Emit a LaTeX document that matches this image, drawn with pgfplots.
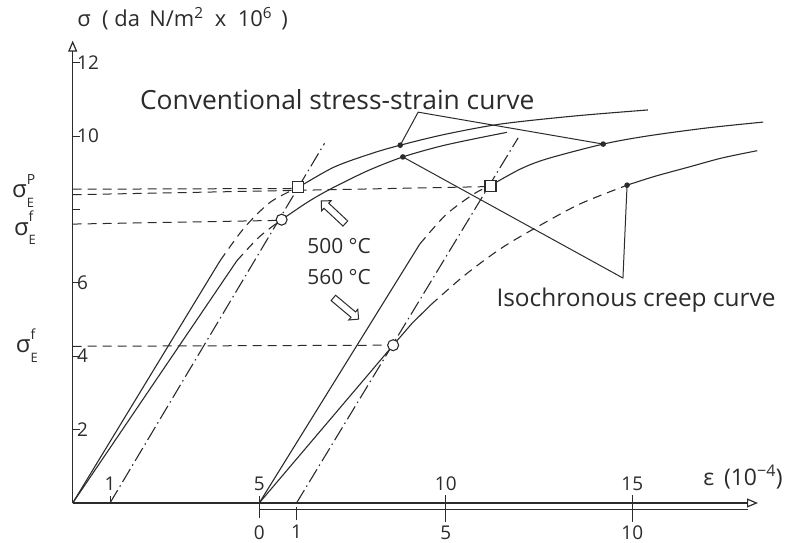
\documentclass[border=0pt]{standalone}
\usepackage{fontspec}
\setmainfont{Open Sans}
\usepackage{pgfplots}
\pgfplotsset{compat=1.18}
\usetikzlibrary{arrows.meta,shapes.arrows}

\definecolor{ink}{HTML}{2B2B2B}
\newcommand\numfont{\fontsize{19}{22}\selectfont}
% stress symbol with a raised and a lowered index
\newcommand\sig[2]{σ\rlap{\raisebox{1.05ex}{\fontsize{14}{14}\selectfont #1}}\raisebox{-0.75ex}{\fontsize{13}{13}\selectfont #2}}

\begin{document}
\begin{tikzpicture}
\begin{axis}[
  scale only axis,
  width=685.3bp, height=462.4bp,
  xmin=0, xmax=18.37, ymin=0, ymax=12.6,
  axis lines=left,
  axis line style={ink, line width=1.2bp, -{Triangle[open,length=11bp,width=9bp]}},
  clip=false,
  xtick={1,5,10,15},
  ytick={2,4,6,8,10,12},
  yticklabels={2,4,6,,10,12},
  tick align=inside,
  major tick length=7bp,
  tick style={ink, line width=1bp},
  /pgf/number format/assume math mode=true,
  yticklabel style={anchor=west, xshift=1bp, font=\numfont, text=ink},
  xticklabel style={anchor=south, yshift=9bp, font=\numfont, text=ink},
  every axis plot/.append style={ink, line width=1.1bp},
  dsh/.style={dash pattern=on 9bp off 6bp},
  dshdot/.style={dash pattern=on 15bp off 4bp on 1.5bp off 4bp},
]
\coordinate (O) at (axis cs:0,0);

% ---------- 500 C ----------
% conventional curve: elastic part, transition, plastic part
\addplot[solid] coordinates {(0,0) (3.95,6.6)};
\addplot[dsh, smooth] coordinates {(3.95,6.6) (4.6,7.5) (5.3,8.2) (6.05,8.6)};
\addplot[smooth] coordinates {(6.05,8.6) (7.0,9.15) (8.0,9.52) (8.78,9.75) (10.0,10.05) (11.5,10.33) (13.5,10.55) (15.42,10.71)};
% isochronous creep curve
\addplot[solid] coordinates {(0,0) (4.4,6.6)};
\addplot[dsh, smooth] coordinates {(4.4,6.6) (5.0,7.25) (5.6,7.72)};
\addplot[smooth] coordinates {(5.6,7.72) (6.3,8.2) (6.9,8.55) (7.9,9.05) (8.85,9.43) (9.85,9.72) (10.8,9.93) (11.64,10.1)};
% offset line
\addplot[dshdot] coordinates {(1,0) (6.75,9.8)};

% ---------- 560 C ----------
\addplot[solid] coordinates {(5,0) (9.3,7.05)};
\addplot[dsh, smooth] coordinates {(9.3,7.05) (10.0,7.85) (10.75,8.42) (11.2,8.65)};
\addplot[smooth] coordinates {(11.2,8.65) (12.0,9.1) (12.72,9.38) (14.22,9.78) (15.4,10.0) (17.0,10.22) (18.51,10.38)};
\addplot[solid] coordinates {(5,0) (8.59,4.3) (9.1,4.9) (9.6,5.4)};
\addplot[dsh, smooth] coordinates {(9.6,5.4) (10.5,6.2) (11.5,6.95) (12.5,7.55) (13.6,8.15) (14.86,8.66)};
\addplot[smooth] coordinates {(14.86,8.66) (15.6,8.9) (16.5,9.15) (17.4,9.4) (18.35,9.6)};
\addplot[dshdot] coordinates {(6,0) (11.94,9.95)};

% ---------- limit stress levels ----------
\addplot[dsh, line width=1bp] coordinates {(0,8.55) (5.9,8.57)};
\addplot[dsh, line width=1bp] coordinates {(0,8.40) (11.05,8.62)};
\addplot[dsh, line width=1bp] coordinates {(0,7.6) (5.45,7.7)};
\addplot[dsh, line width=1bp] coordinates {(0,4.27) (8.43,4.3)};

% ---------- pointers to the labels ----------
\addplot[line width=1bp] coordinates {(8.78,9.75) (9.26,10.65) (14.22,9.78)};
\addplot[line width=1bp] coordinates {(8.85,9.43) (14.75,6.13) (14.86,8.66)};

% ---------- markers ----------
\addplot[only marks, mark=*, mark size=2.2bp, mark options={fill=ink}] coordinates {(8.78,9.75) (8.85,9.43) (14.22,9.78) (14.86,8.66)};
\addplot[only marks, mark=square*, mark size=5.5bp, mark options={fill=white, draw=ink, line width=1.1bp}] coordinates {(6.05,8.6) (11.2,8.65)};
\addplot[only marks, mark=*, mark size=5.5bp, mark options={fill=white, draw=ink, line width=1.1bp}] coordinates {(5.6,7.72) (8.59,4.3)};

% ---------- second strain scale (560 C), shifted by 5 ----------
\draw[ink, line width=1.2bp] (axis cs:5,-0.18) -- (axis cs:18.1,-0.18);
\draw[ink, line width=1bp] (axis cs:5,0.1) -- (axis cs:5,-0.4);
\draw[ink, line width=1bp] (axis cs:6,-0.1) -- (axis cs:6,-0.45);
\draw[ink, line width=1bp] (axis cs:10,0.22) -- (axis cs:10,-0.52);
\draw[ink, line width=1bp] (axis cs:15,0.22) -- (axis cs:15,-0.52);
\node[font=\numfont, text=ink] at (axis cs:5,-0.8) {0};
\node[font=\numfont, text=ink] at (axis cs:6,-0.77) {1};
\node[font=\numfont, text=ink] at (axis cs:10,-0.8) {5};
\node[font=\numfont, text=ink] at (axis cs:15,-0.8) {10};

% ---------- labels ----------
\node[font=\fontsize{22}{24}\selectfont, text=ink, anchor=west] at (axis cs:0.03,13.2)
  {σ \ ( da \,N/m\textsuperscript{2} \ x \ 10\textsuperscript{6} \,)};
\node[font=\fontsize{23}{25}\selectfont, text=ink] at (axis cs:17.97,0.7) {ε \,(10\textsuperscript{−4})};
\node[font=\fontsize{24}{26}\selectfont, text=ink] at (axis cs:-1.33,8.5) {\sig{P}{E}};
\node[font=\fontsize{24}{26}\selectfont, text=ink] at (axis cs:-1.28,7.5) {\sig{f}{E}};
\node[font=\fontsize{24}{26}\selectfont, text=ink] at (axis cs:-1.23,4.3) {\sig{f}{E}};
\node[font=\fontsize{26.5}{28}\selectfont, text=ink] at (axis cs:7.09,11.0) {Conventional stress-strain curve};
\node[font=\fontsize{24.5}{26}\selectfont, text=ink] at (axis cs:15.1,5.53) {Isochronous creep curve};
\node[font=\fontsize{21}{22}\selectfont, text=ink] at (axis cs:7.14,7.0) {500 °C};
\node[font=\fontsize{21}{22}\selectfont, text=ink] at (axis cs:7.14,6.16) {560 °C};
\node[single arrow, draw=ink, line width=1bp, minimum height=33bp, inner sep=3bp,
      single arrow head extend=3.5bp, rotate=137] at (axis cs:7.02,7.89) {};
\node[single arrow, draw=ink, line width=1bp, minimum height=33bp, inner sep=3bp,
      single arrow head extend=3.5bp, rotate=-40] at (axis cs:7.29,5.33) {};
\end{axis}
\pgfresetboundingbox
\path[use as bounding box] (O) ++(-72.7bp,-40bp) rectangle ++(797bp,543bp);
\end{tikzpicture}
\end{document}
